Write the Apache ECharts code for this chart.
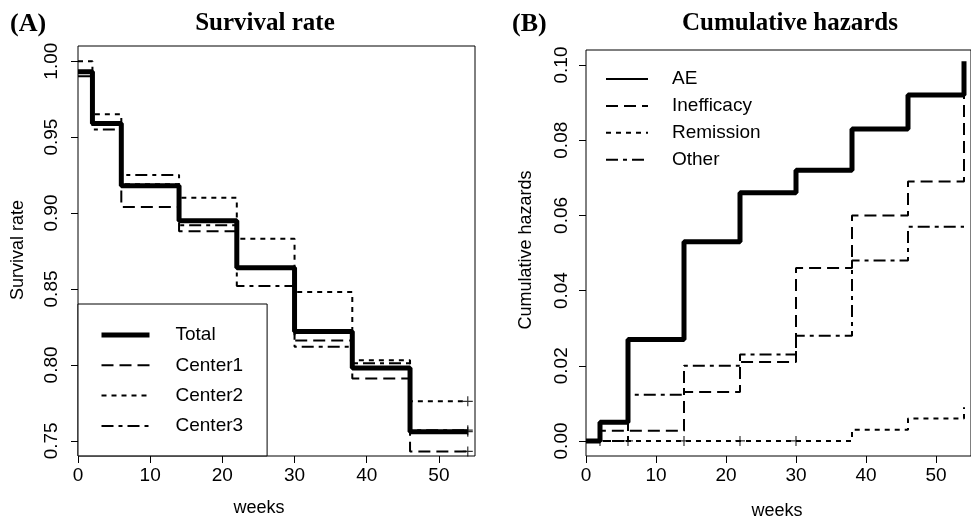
<!DOCTYPE html>
<html><head><meta charset="utf-8">
<script src="https://cdn.jsdelivr.net/npm/echarts@6/dist/echarts.min.js"></script>
<style>html,body{margin:0;padding:0;background:#fff}#c{width:971px;height:519px}</style>
</head><body><div id="c"></div>
<script>
// ---- Data ----
const weeks = [0, 2, 6, 14, 22, 30, 38, 46, 54];
// Panel A: survival rate (value holds from this week until the next)
const total   = [0.993, 0.959, 0.918, 0.895, 0.864, 0.822, 0.798, 0.756, 0.756];
const center1 = [0.993, 0.959, 0.904, 0.888, 0.864, 0.816, 0.791, 0.743, 0.743];
const center2 = [1.000, 0.965, 0.919, 0.910, 0.883, 0.848, 0.803, 0.776, 0.776];
const center3 = [0.990, 0.955, 0.925, 0.892, 0.852, 0.812, 0.801, 0.757, 0.757];
// Panel B: cumulative hazards
const ae         = [0, 0.005, 0.027, 0.053, 0.066, 0.072, 0.083, 0.092, 0.101];
const inefficacy = [0, 0.0027, 0.0027, 0.013, 0.021, 0.046, 0.060, 0.069, 0.092];
const remission  = [0, 0, 0, 0, 0, 0, 0.003, 0.006, 0.009];
const other      = [0, 0, 0.0123, 0.020, 0.023, 0.028, 0.048, 0.057, 0.057];
const remissionCensorWeeks = [2, 6, 14, 22, 30];
// Tick labels
const weekTicks = [0, 10, 20, 30, 40, 50];
const survTicks = [0.75, 0.80, 0.85, 0.90, 0.95, 1.00];
const hazTicks  = [0.00, 0.02, 0.04, 0.06, 0.08, 0.10];

// ---- Styling ----
const SANS = "'Liberation Sans', Arial, Helvetica, sans-serif";
const SERIF = "'Liberation Serif', 'Times New Roman', serif";
const DASH = [12, 6], DOT = [5, 5], DASHDOT = [12, 5, 4, 5];
const PLUS = 'path://M-0.6,-5H0.6V-0.6H5V0.6H0.6V5H-0.6V0.6H-5V-0.6H-0.6Z';

const pts = (xs, ys) => xs.map((x, i) => [x, ys[i]]);
function stepSeries(name, ys, idx, width, dash) {
  return {
    name, type: 'line', step: 'end', xAxisIndex: idx, yAxisIndex: idx,
    data: pts(weeks, ys), symbol: 'none', showSymbol: false, silent: true,
    itemStyle: { color: '#000' },
    lineStyle: { color: '#000', width, type: dash || 'solid', cap: 'butt' }
  };
}
function censor(xs, ys, idx) {
  return {
    type: 'scatter', xAxisIndex: idx, yAxisIndex: idx, data: pts(xs, ys),
    symbol: PLUS, symbolSize: 10, silent: true,
    itemStyle: { color: '#000' }, z: 5
  };
}
const last = a => a[a.length - 1];
const lastWeek = last(weeks);

function xAxis(idx) {
  return {
    gridIndex: idx, type: 'value', min: 0, max: 55, interval: 10,
    axisLine: { show: false, onZero: false }, splitLine: { show: false },
    axisTick: { show: true, length: 7, customValues: weekTicks, lineStyle: { color: '#000', width: 1 } },
    axisLabel: { customValues: weekTicks, color: '#000', fontSize: 19, fontFamily: SANS, margin: 10,
      formatter: v => (weekTicks.includes(v) ? String(v) : '') }
  };
}
function yAxis(idx, min, max, ticks, margin) {
  return {
    gridIndex: idx, type: 'value', min, max,
    axisLine: { show: false, onZero: false }, splitLine: { show: false },
    axisTick: { show: true, length: 7, customValues: ticks, lineStyle: { color: '#000', width: 1 } },
    axisLabel: { customValues: ticks, rotate: 90, color: '#000', fontSize: 19, fontFamily: SANS, margin,
      formatter: v => v.toFixed(2) }
  };
}
function txt(text, x, y, font, align, rot) {
  return { type: 'text', x, y, rotation: rot || 0, silent: true,
    style: { text, font, fill: '#000', textAlign: align || 'center', textVerticalAlign: 'middle' } };
}
const hiddenSymbol = { color: 'transparent', borderColor: 'transparent', borderWidth: 0, opacity: 0 };

const option = {
  animation: false,
  backgroundColor: '#fff',
  grid: [
    { left: 78, top: 46, width: 397, height: 410, show: true, borderColor: '#000', borderWidth: 1, backgroundColor: 'transparent' },
    { left: 586, top: 50, width: 392, height: 406, show: true, borderColor: '#000', borderWidth: 1, backgroundColor: 'transparent' }
  ],
  xAxis: [xAxis(0), xAxis(1)],
  yAxis: [yAxis(0, 0.74, 1.01, survTicks, 17), yAxis(1, -0.004, 0.104, hazTicks, 15)],
  legend: [
    {
      left: 78, top: 304, orient: 'vertical', selectedMode: false,
      padding: [21, 24, 20, 21], itemGap: 10.3, itemWidth: 48, itemHeight: 14,
      borderColor: '#000', borderWidth: 1, backgroundColor: '#fff',
      itemStyle: hiddenSymbol,
      textStyle: { fontSize: 19, fontFamily: SANS, color: '#000', lineHeight: 20, padding: [0, 0, 0, 21] },
      data: [
        { name: 'Total', lineStyle: { width: 5 } },
        { name: 'Center1', lineStyle: { width: 2 } },
        { name: 'Center2', lineStyle: { width: 2 } },
        { name: 'Center3', lineStyle: { width: 2 } }
      ]
    },
    {
      left: 605, top: 69, orient: 'vertical', selectedMode: false,
      padding: 0, itemGap: 6.9, itemWidth: 42, itemHeight: 14,
      itemStyle: hiddenSymbol,
      textStyle: { fontSize: 19, fontFamily: SANS, color: '#000', lineHeight: 20, padding: [0, 0, 0, 19] },
      data: [
        { name: 'AE', lineStyle: { width: 2 } },
        { name: 'Inefficacy', lineStyle: { width: 2 } },
        { name: 'Remission', lineStyle: { width: 2 } },
        { name: 'Other', lineStyle: { width: 2 } }
      ]
    }
  ],
  series: [
    stepSeries('Center1', center1, 0, 2, DASH),
    stepSeries('Center2', center2, 0, 2, DOT),
    stepSeries('Center3', center3, 0, 2, DASHDOT),
    stepSeries('Total', total, 0, 5),
    censor([lastWeek, lastWeek, lastWeek, lastWeek], [last(total), last(center1), last(center2), last(center3)], 0),
    stepSeries('Inefficacy', inefficacy, 1, 2, DASH),
    stepSeries('Remission', remission, 1, 2, DOT),
    stepSeries('Other', other, 1, 2, DASHDOT),
    stepSeries('AE', ae, 1, 5),
    censor(remissionCensorWeeks, remissionCensorWeeks.map(() => 0), 1)
  ],
  graphic: [
    txt('(A)', 10, 24, 'bold 26px ' + SERIF, 'left'),
    txt('Survival rate', 265, 24, 'bold 25px ' + SERIF),
    txt('(B)', 512, 24, 'bold 26px ' + SERIF, 'left'),
    txt('Cumulative hazards', 790, 24, 'bold 25px ' + SERIF),
    txt('Survival rate', 18, 250, '18px ' + SANS, 'center', Math.PI / 2),
    txt('Cumulative hazards', 526, 250, '18px ' + SANS, 'center', Math.PI / 2),
    txt('weeks', 259, 508, '18px ' + SANS),
    txt('weeks', 777, 511, '18px ' + SANS)
  ]
};
echarts.init(document.getElementById('c'), null, { renderer: 'canvas' }).setOption(option);
</script></body></html>
